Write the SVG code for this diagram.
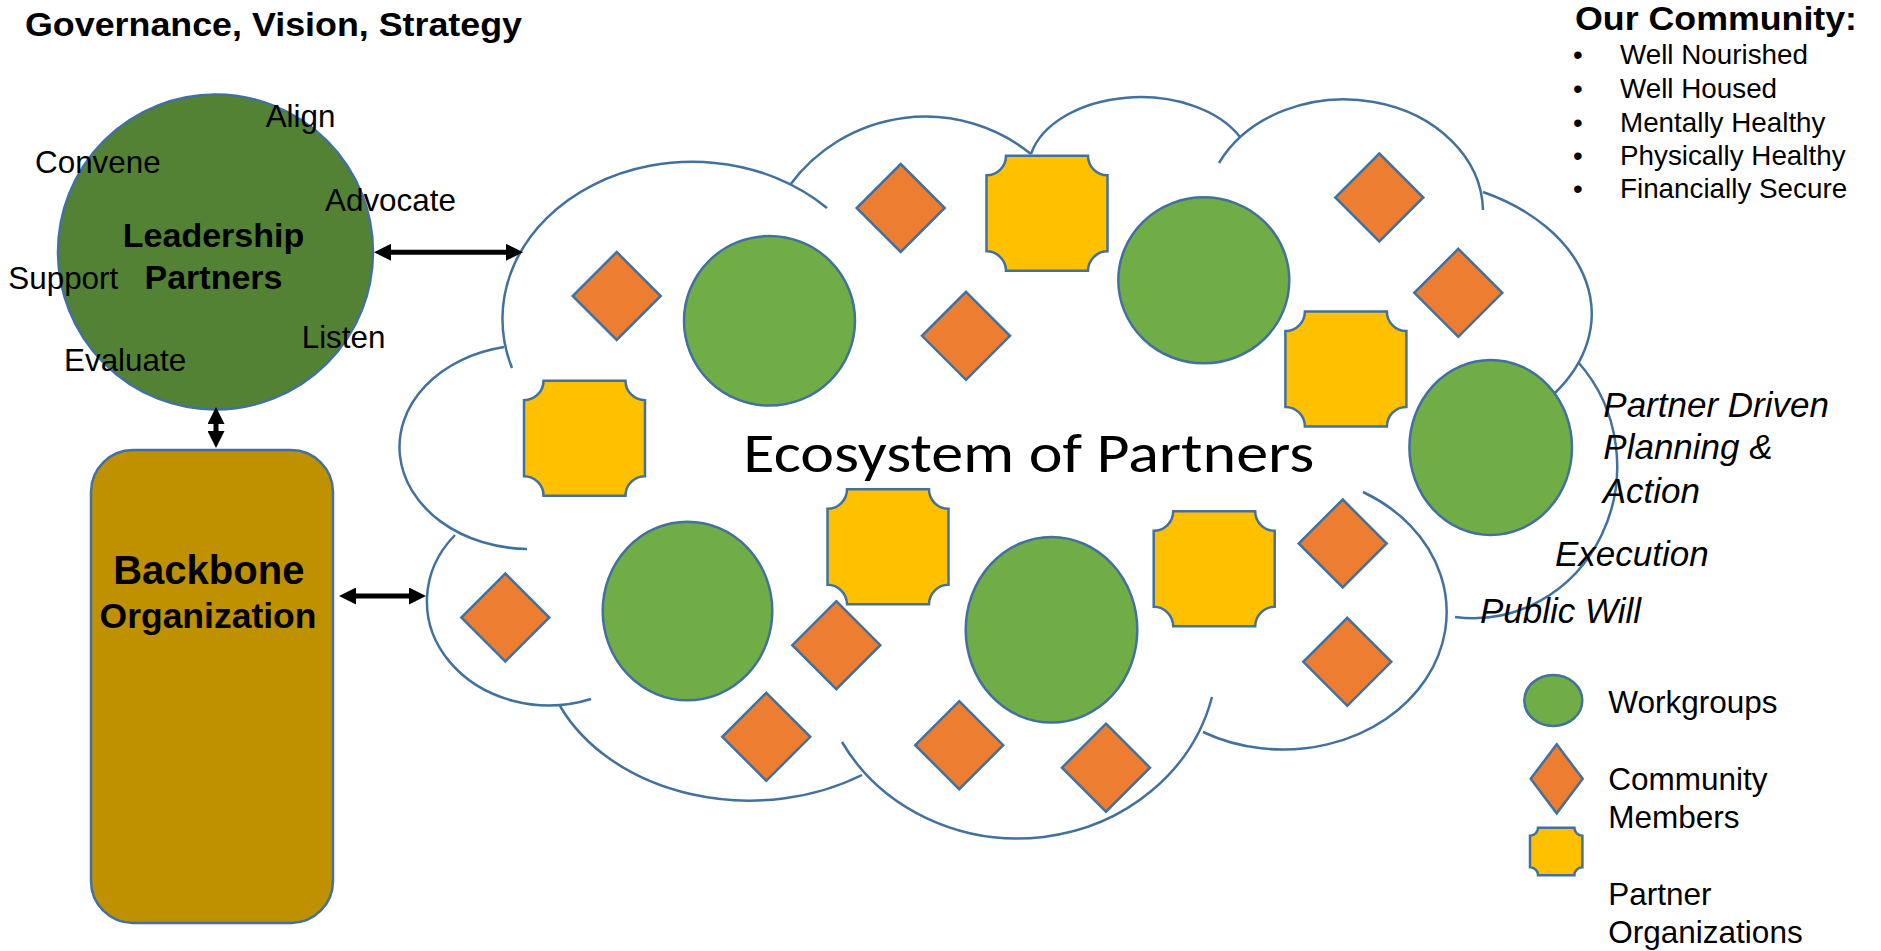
<svg xmlns="http://www.w3.org/2000/svg" width="1881" height="951" viewBox="0 0 1881 951">
<style>
text{font-family:"Liberation Sans",Arial,sans-serif;fill:#000}
.b{font-weight:bold}
.i{font-style:italic}
.lbl{font-size:31.4px}
.lst{font-size:27.8px}
.it{font-size:35px}
.lg{font-size:31.5px}
.eco{font-family:Carlito,Calibri,Lato,"Liberation Sans",sans-serif;font-size:55px}
.out{stroke:#41719C;stroke-width:2.5}
.wg{fill:#70AD47}
.cm{fill:#ED7D31}
.po{fill:#FFC000}
.cl{fill:none;stroke:#41719C;stroke-width:2.5}
.arr{stroke:#000;stroke-width:5;fill:none;marker-start:url(#ah);marker-end:url(#ah)}
</style>
<defs>
<marker id="ah" viewBox="0 0 17 17" markerWidth="17" markerHeight="17" markerUnits="userSpaceOnUse" refX="7" refY="8.5" orient="auto-start-reverse">
<path d="M0,0 L17,8.5 L0,17 Z" fill="#000"/>
</marker>
<polygon id="dia" points="0,-44 44,0 0,44 -44,0"/>
<path id="plq" d="M-41,-57.5 L41,-57.5 A19.5,19.5 0 0 0 60.5,-38 L60.5,38 A19.5,19.5 0 0 0 41,57.5 L-41,57.5 A19.5,19.5 0 0 0 -60.5,38 L-60.5,-38 A19.5,19.5 0 0 0 -41,-57.5 Z"/>
</defs>
<rect width="1881" height="951" fill="#fff"/>
<g id="title">
<text class="b" x="25" y="36" font-size="34" textLength="497" lengthAdjust="spacingAndGlyphs">Governance, Vision, Strategy</text>
</g>
<g id="our-community">
<text class="b" x="1575" y="30" font-size="34" textLength="282" lengthAdjust="spacingAndGlyphs">Our Community:</text>
<g class="lst">
<text x="1573" y="64.3">•</text><text x="1620" y="64.3">Well Nourished</text>
<text x="1573" y="98.3">•</text><text x="1620" y="98.3">Well Housed</text>
<text x="1573" y="131.7">•</text><text x="1620" y="131.7">Mentally Healthy</text>
<text x="1573" y="165">•</text><text x="1620" y="165">Physically Healthy</text>
<text x="1573" y="198.3">•</text><text x="1620" y="198.3">Financially Secure</text>
</g>
</g>
<g id="cloud">
<path fill="#fff" stroke="none" d="M504,347 A190,157 0 0 1 790,185 A168,168 0 0 1 1031,154 A112,73 0 0 1 1240,137 A139,113 0 0 1 1483,192 A200,137 0 0 1 1578,362 A144,152 0 0 1 1455,617 A163,137 0 0 1 1203,732 A200,185 0 0 1 862,775 A208,161 0 0 1 560,706 A122,104 0 0 1 455,535 A130,102 0 0 1 504,347 Z"/>
<path class="cl" d="M527,549 A130,102 0 0 1 504,347"/>
<path class="cl" d="M512,368 A190,157 0 0 1 827,208"/>
<path class="cl" d="M790,185 A168,168 0 0 1 1031,154"/>
<path class="cl" d="M1031,154 A112,73 0 0 1 1240,137"/>
<path class="cl" d="M1219,163 A139,113 0 0 1 1483,210"/>
<path class="cl" d="M1483,192 A200,137 0 0 1 1555,393"/>
<path class="cl" d="M1578,362 A144,152 0 0 1 1455,617"/>
<path class="cl" d="M1363,492 A163,137 0 1 1 1203,732"/>
<path class="cl" d="M1212,697 A200,185 0 0 1 842,742"/>
<path class="cl" d="M862,775 A208,161 0 0 1 560,706"/>
<path class="cl" d="M591,699 A122,104 0 0 1 455,535"/>
</g>
<g id="workgroups">
<ellipse class="wg out" cx="769.5" cy="320.8" rx="85.5" ry="84.8"/>
<ellipse class="wg out" cx="1203.8" cy="280.3" rx="85.5" ry="83"/>
<ellipse class="wg out" cx="1490.7" cy="447.5" rx="81.3" ry="87.5"/>
<ellipse class="wg out" cx="687.5" cy="611" rx="84.8" ry="89.3"/>
<ellipse class="wg out" cx="1051.5" cy="629.8" rx="85.8" ry="92.8"/>
</g>
<g id="community-members">
<use href="#dia" class="cm out" x="616.7" y="296"/>
<use href="#dia" class="cm out" x="900.7" y="208"/>
<use href="#dia" class="cm out" x="966" y="335.8"/>
<use href="#dia" class="cm out" x="1379.3" y="197.5"/>
<use href="#dia" class="cm out" x="1458.3" y="292.8"/>
<use href="#dia" class="cm out" x="505.3" y="617.5"/>
<use href="#dia" class="cm out" x="836.3" y="645.2"/>
<use href="#dia" class="cm out" x="766.3" y="736.8"/>
<use href="#dia" class="cm out" x="959.2" y="745.2"/>
<use href="#dia" class="cm out" x="1106" y="767.7"/>
<use href="#dia" class="cm out" x="1342.7" y="543.5"/>
<use href="#dia" class="cm out" x="1347.3" y="661.8"/>
</g>
<g id="partner-organizations">
<use href="#plq" class="po out" x="584.5" y="438.2"/>
<use href="#plq" class="po out" x="1047" y="213.3"/>
<use href="#plq" class="po out" x="1345.9" y="369"/>
<use href="#plq" class="po out" x="888" y="546.8"/>
<use href="#plq" class="po out" x="1214.2" y="568.8"/>
</g>
<g id="ecosystem-label">
<text class="eco" x="743.3" y="472.3" textLength="571" lengthAdjust="spacingAndGlyphs">Ecosystem of Partners</text>
</g>
<g id="process-labels" class="it">
<text class="i it" x="1603.3" y="416.7">Partner Driven</text>
<text class="i it" x="1603.3" y="459.3">Planning &amp;</text>
<text class="i it" x="1602.7" y="502.7">Action</text>
<text class="i it" x="1555" y="566">Execution</text>
<text class="i it" x="1480" y="622.7">Public Will</text>
</g>
<g id="leadership">
<circle cx="215.5" cy="252" r="157.5" fill="#548235" class="out"/>
<text class="b" x="213.5" y="247.3" font-size="34" text-anchor="middle">Leadership</text>
<text class="b" x="213.5" y="289.3" font-size="34" text-anchor="middle">Partners</text>
<text class="lbl" x="265.7" y="126.7">Align</text>
<text class="lbl" x="35" y="172.7">Convene</text>
<text class="lbl" x="325" y="210.7">Advocate</text>
<text class="lbl" x="8.3" y="289.3">Support</text>
<text class="lbl" x="301.7" y="348.3">Listen</text>
<text class="lbl" x="64" y="371">Evaluate</text>
</g>
<g id="backbone">
<rect x="91" y="450" width="242" height="473" rx="42" ry="42" fill="#BF9000" class="out"/>
<text class="b" x="208.8" y="584.3" font-size="40" text-anchor="middle">Backbone</text>
<text class="b" x="208" y="627.7" font-size="35.5" text-anchor="middle">Organization</text>
</g>
<g id="connectors">
<line class="arr" x1="384" y1="252.3" x2="513" y2="252.3"/>
<line class="arr" x1="216" y1="417" x2="216" y2="438"/>
<line class="arr" x1="349" y1="596" x2="416" y2="596"/>
</g>
<g id="legend">
<g id="legend-workgroups">
<ellipse class="wg out" cx="1553.3" cy="700.5" rx="29" ry="25.5"/>
<text class="lg" x="1608.3" y="713.3">Workgroups</text>
</g>
<g id="legend-community">
<polygon class="cm out" points="1556.7,744.3 1582.7,778.8 1556.7,813.3 1530.7,778.8"/>
<text class="lg" x="1608.3" y="790.3">Community</text>
<text class="lg" x="1608.3" y="828.3">Members</text>
</g>
<g id="legend-partners">
<path class="po out" transform="translate(1556.2,851.5)" d="M-18.2,-23.8 L18.2,-23.8 A8,8 0 0 0 26.2,-15.8 L26.2,15.8 A8,8 0 0 0 18.2,23.8 L-18.2,23.8 A8,8 0 0 0 -26.2,15.8 L-26.2,-15.8 A8,8 0 0 0 -18.2,-23.8 Z"/>
<text class="lg" x="1608.3" y="905">Partner</text>
<text class="lg" x="1608.3" y="942.7">Organizations</text>
</g>
</g>
</svg>
